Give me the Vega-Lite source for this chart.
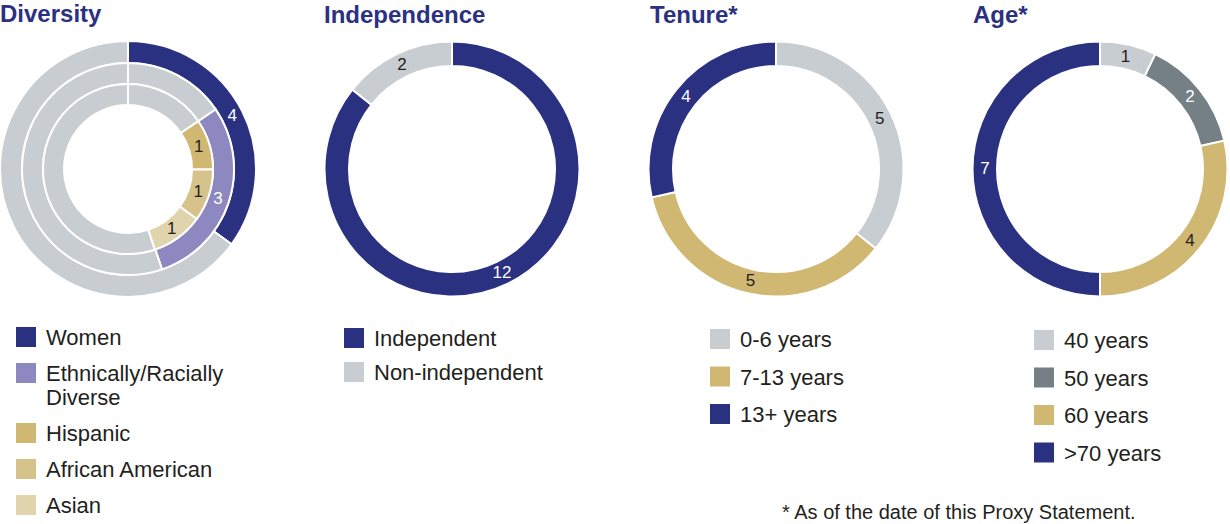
{
  "$schema": "https://vega.github.io/schema/vega-lite/v6.json",
  "background": "white",
  "padding": {"left": -4, "top": 3, "right": 2, "bottom": 0},
  "bounds": "flush",
  "spacing": 68,
  "title": {"text": "* As of the date of this Proxy Statement.", "orient": "bottom", "anchor": "start", "frame": "group", "dx": 782, "offset": -14, "baseline": "top", "font": "Liberation Sans", "fontSize": 20, "fontWeight": "normal", "color": "#231F20"},
  "config": {
    "view": {"stroke": null},
    "legend": {"orient": "none", "direction": "vertical", "symbolType": "M-1,-1.8H1V0.2H-1Z", "symbolSize": 400, "symbolStrokeWidth": 0, "symbolOpacity": 1, "labelFont": "Liberation Sans", "labelFontSize": 22, "labelColor": "#231F20", "labelOffset": 9, "labelBaseline": "alphabetic", "labelLimit": 400, "padding": 0}
  },
  "resolve": {"scale": {"color": "independent", "theta": "independent"}, "legend": {"color": "independent"}},
  "hconcat": [
    {
      "width": 256, "height": 256,
      "title": {"text": "Diversity", "anchor": "start", "frame": "group", "font": "Liberation Sans", "fontSize": 24, "fontWeight": "bold", "color": "#2B3181", "baseline": "alphabetic", "offset": -9},
      "data": {"values": [
        {"ring": "outer", "category": "Women", "share": 35, "label": "4", "idx": 1},
        {"ring": "outer", "category": "Other", "share": 65, "label": "", "idx": 2},
        {"ring": "middle", "category": "Other", "share": 15.5, "label": "", "idx": 1},
        {"ring": "middle", "category": "Ethnically/Racially Diverse", "share": 29.3, "label": "3", "idx": 2},
        {"ring": "middle", "category": "Other", "share": 55.2, "label": "", "idx": 3},
        {"ring": "inner", "category": "Other", "share": 15.5, "label": "", "idx": 1},
        {"ring": "inner", "category": "Hispanic", "share": 9.6, "label": "1", "idx": 2},
        {"ring": "inner", "category": "African American", "share": 9.9, "label": "1", "idx": 3},
        {"ring": "inner", "category": "Asian", "share": 9.9, "label": "1", "idx": 4},
        {"ring": "inner", "category": "Other", "share": 55.1, "label": "", "idx": 5}
      ]},
      "layer": [
        {
          "transform": [{"filter": "datum.ring === 'outer'"}],
          "layer": [
            {"mark": {"type": "arc", "radius": 128, "radius2": 106, "stroke": "white", "strokeWidth": 2},
             "encoding": {
               "theta": {"field": "share", "type": "quantitative", "stack": true},
               "order": {"field": "idx", "type": "quantitative"},
               "color": {"field": "category", "type": "nominal",
                 "scale": {"domain": ["Women", "Ethnically/Racially Diverse", "Hispanic", "African American", "Asian", "Other"], "range": ["#2B3181", "#8D89C0", "#D1B872", "#D6C38C", "#E0D4AC", "#C8CDD1"]},
                 "legend": {"title": null, "values": ["Women", "Ethnically/Racially Diverse", "Hispanic", "African American", "Asian"], "legendX": 15, "legendY": 293, "rowPadding": 14, "labelExpr": "datum.label === 'Ethnically/Racially Diverse' ? ['Ethnically/Racially', 'Diverse'] : datum.label"}}
             }},
            {"mark": {"type": "text", "radius": 117, "font": "Liberation Sans", "fontSize": 17, "align": "center", "baseline": "middle"},
             "encoding": {
               "theta": {"field": "share", "type": "quantitative", "stack": true},
               "order": {"field": "idx", "type": "quantitative"},
               "text": {"field": "label", "type": "nominal"},
               "color": {"condition": {"test": "indexof(['Women','Ethnically/Racially Diverse'], datum.category) >= 0", "value": "white"}, "value": "#231F20"}
             }}
          ]
        },
        {
          "transform": [{"filter": "datum.ring === 'middle'"}],
          "layer": [
            {"mark": {"type": "arc", "radius": 106, "radius2": 85, "stroke": "white", "strokeWidth": 2},
             "encoding": {
               "theta": {"field": "share", "type": "quantitative", "stack": true},
               "order": {"field": "idx", "type": "quantitative"},
               "color": {"field": "category", "type": "nominal",
                 "scale": {"domain": ["Women", "Ethnically/Racially Diverse", "Hispanic", "African American", "Asian", "Other"], "range": ["#2B3181", "#8D89C0", "#D1B872", "#D6C38C", "#E0D4AC", "#C8CDD1"]},
                 "legend": {"title": null, "values": ["Women", "Ethnically/Racially Diverse", "Hispanic", "African American", "Asian"], "legendX": 15, "legendY": 293, "rowPadding": 14, "labelExpr": "datum.label === 'Ethnically/Racially Diverse' ? ['Ethnically/Racially', 'Diverse'] : datum.label"}}
             }},
            {"mark": {"type": "text", "radius": 95, "font": "Liberation Sans", "fontSize": 17, "align": "center", "baseline": "middle"},
             "encoding": {
               "theta": {"field": "share", "type": "quantitative", "stack": true},
               "order": {"field": "idx", "type": "quantitative"},
               "text": {"field": "label", "type": "nominal"},
               "color": {"condition": {"test": "indexof(['Women','Ethnically/Racially Diverse'], datum.category) >= 0", "value": "white"}, "value": "#231F20"}
             }}
          ]
        },
        {
          "transform": [{"filter": "datum.ring === 'inner'"}],
          "layer": [
            {"mark": {"type": "arc", "radius": 85, "radius2": 64, "stroke": "white", "strokeWidth": 2},
             "encoding": {
               "theta": {"field": "share", "type": "quantitative", "stack": true},
               "order": {"field": "idx", "type": "quantitative"},
               "color": {"field": "category", "type": "nominal",
                 "scale": {"domain": ["Women", "Ethnically/Racially Diverse", "Hispanic", "African American", "Asian", "Other"], "range": ["#2B3181", "#8D89C0", "#D1B872", "#D6C38C", "#E0D4AC", "#C8CDD1"]},
                 "legend": {"title": null, "values": ["Women", "Ethnically/Racially Diverse", "Hispanic", "African American", "Asian"], "legendX": 15, "legendY": 293, "rowPadding": 14, "labelExpr": "datum.label === 'Ethnically/Racially Diverse' ? ['Ethnically/Racially', 'Diverse'] : datum.label"}}
             }},
            {"mark": {"type": "text", "radius": 74, "font": "Liberation Sans", "fontSize": 17, "align": "center", "baseline": "middle"},
             "encoding": {
               "theta": {"field": "share", "type": "quantitative", "stack": true},
               "order": {"field": "idx", "type": "quantitative"},
               "text": {"field": "label", "type": "nominal"},
               "color": {"condition": {"test": "indexof(['Women','Ethnically/Racially Diverse'], datum.category) >= 0", "value": "white"}, "value": "#231F20"}
             }}
          ]
        }
      ]
    },
    {
      "width": 256, "height": 256,
      "title": {"text": "Independence", "anchor": "start", "frame": "group", "font": "Liberation Sans", "fontSize": 24, "fontWeight": "bold", "color": "#2B3181", "baseline": "alphabetic", "offset": -9},
      "data": {"values": [
        {"category": "Independent", "count": 12, "idx": 1},
        {"category": "Non-independent", "count": 2, "idx": 2}
      ]},
      "layer": [
        {"mark": {"type": "arc", "radius": 127.5, "radius2": 103, "stroke": "white", "strokeWidth": 2},
         "encoding": {
           "theta": {"field": "count", "type": "quantitative", "stack": true},
           "order": {"field": "idx", "type": "quantitative"},
           "color": {"field": "category", "type": "nominal",
             "scale": {"domain": ["Independent", "Non-independent"], "range": ["#2B3181", "#C8CDD1"]},
             "legend": {"title": null, "legendX": 19, "legendY": 294, "rowPadding": 12}}
         }},
        {"mark": {"type": "text", "radius": 115, "font": "Liberation Sans", "fontSize": 17, "align": "center", "baseline": "middle"},
         "encoding": {
           "theta": {"field": "count", "type": "quantitative", "stack": true},
           "order": {"field": "idx", "type": "quantitative"},
           "text": {"field": "count", "type": "quantitative"},
           "color": {"condition": {"test": "datum.category === 'Independent'", "value": "white"}, "value": "#231F20"}
         }}
      ]
    },
    {
      "width": 256, "height": 256,
      "title": {"text": "Tenure*", "anchor": "start", "frame": "group", "font": "Liberation Sans", "fontSize": 24, "fontWeight": "bold", "color": "#2B3181", "baseline": "alphabetic", "offset": -9, "dx": 2},
      "data": {"values": [
        {"category": "0-6 years", "count": 5, "idx": 1},
        {"category": "7-13 years", "count": 5, "idx": 2},
        {"category": "13+ years", "count": 4, "idx": 3}
      ]},
      "layer": [
        {"mark": {"type": "arc", "radius": 127.5, "radius2": 103, "stroke": "white", "strokeWidth": 2},
         "encoding": {
           "theta": {"field": "count", "type": "quantitative", "stack": true},
           "order": {"field": "idx", "type": "quantitative"},
           "color": {"field": "category", "type": "nominal",
             "scale": {"domain": ["0-6 years", "7-13 years", "13+ years"], "range": ["#C8CDD1", "#D1B872", "#2B3181"]},
             "legend": {"title": null, "legendX": 61, "legendY": 295, "rowPadding": 15.5}}
         }},
        {"mark": {"type": "text", "radius": 115, "font": "Liberation Sans", "fontSize": 17, "align": "center", "baseline": "middle"},
         "encoding": {
           "theta": {"field": "count", "type": "quantitative", "stack": true},
           "order": {"field": "idx", "type": "quantitative"},
           "text": {"field": "count", "type": "quantitative"},
           "color": {"condition": {"test": "datum.category === '13+ years'", "value": "white"}, "value": "#231F20"}
         }}
      ]
    },
    {
      "width": 256, "height": 256,
      "title": {"text": "Age*", "anchor": "start", "frame": "group", "font": "Liberation Sans", "fontSize": 24, "fontWeight": "bold", "color": "#2B3181", "baseline": "alphabetic", "offset": -9, "dx": 1},
      "data": {"values": [
        {"category": "40 years", "count": 1, "idx": 1},
        {"category": "50 years", "count": 2, "idx": 2},
        {"category": "60 years", "count": 4, "idx": 3},
        {"category": ">70 years", "count": 7, "idx": 4}
      ]},
      "layer": [
        {"mark": {"type": "arc", "radius": 127.5, "radius2": 103, "stroke": "white", "strokeWidth": 2},
         "encoding": {
           "theta": {"field": "count", "type": "quantitative", "stack": true},
           "order": {"field": "idx", "type": "quantitative"},
           "color": {"field": "category", "type": "nominal",
             "scale": {"domain": ["40 years", "50 years", "60 years", ">70 years"], "range": ["#C8CDD1", "#747F86", "#D1B872", "#2B3181"]},
             "legend": {"title": null, "legendX": 61, "legendY": 296, "rowPadding": 15.5}}
         }},
        {"mark": {"type": "text", "radius": 115, "font": "Liberation Sans", "fontSize": 17, "align": "center", "baseline": "middle"},
         "encoding": {
           "theta": {"field": "count", "type": "quantitative", "stack": true},
           "order": {"field": "idx", "type": "quantitative"},
           "text": {"field": "count", "type": "quantitative"},
           "color": {"condition": {"test": "indexof(['50 years','>70 years'], datum.category) >= 0", "value": "white"}, "value": "#231F20"}
         }}
      ]
    }
  ]
}
